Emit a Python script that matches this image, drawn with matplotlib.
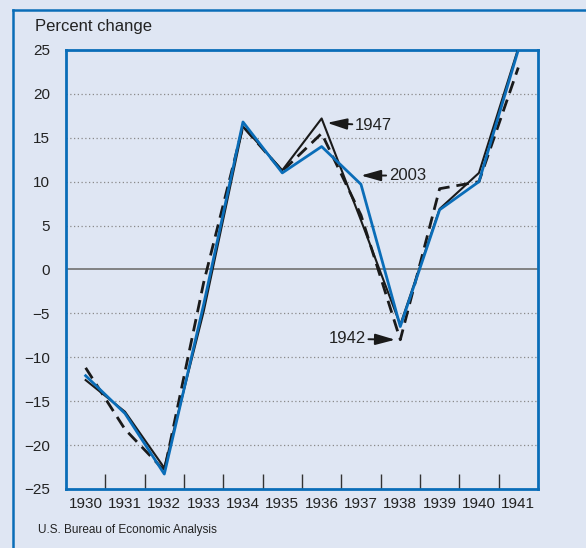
import numpy as np
import matplotlib
matplotlib.use('Agg')
import matplotlib.pyplot as plt
from matplotlib.lines import Line2D

plt.rcParams['font.family'] = ['Liberation Sans', 'DejaVu Sans']

years = ['1930', '1931', '1932', '1933', '1934', '1935',
         '1936', '1937', '1938', '1939', '1940', '1941']
v1947 = [-12.6, -16.2, -22.6, -4.8, 16.3, 11.3, 17.2, 5.6, -6.3, 6.9, 11.0, 25.2]
v2003 = [-12.1, -16.4, -23.3, -4.0, 16.8, 11.0, 14.0, 9.7, -6.5, 6.8, 10.0, 25.0]
v1942 = [-11.2, -18.2, -22.9, -1.5, 16.3, 11.2, 15.5, 6.2, -8.0, 9.2, 10.0, 23.0]
yticks = [-25, -20, -15, -10, -5, 0, 5, 10, 15, 20, 25]

bg = '#dfe6f3'
blue = '#0a6db8'

fig = plt.figure(figsize=(5.86, 5.48), dpi=100, facecolor=bg)
ax = fig.add_axes([0.1126, 0.1077, 0.8054, 0.8011], facecolor=bg)

x = np.arange(len(years))

# gridlines
for v in yticks[1:-1]:
    if v == 0:
        ax.axhline(0, color='#7a7a7a', lw=1.3, zorder=1)
    else:
        ax.axhline(v, color='#8a8a8a', lw=0.9, ls=(0, (1, 2)), zorder=1)

ax.plot(x, v1942, color='#1a1a1a', lw=2.0, ls=(0, (4.5, 2.5)), zorder=3)
ax.plot(x, v1947, color='#1a1a1a', lw=1.5, zorder=4)
ax.plot(x, v2003, color=blue, lw=2.0, zorder=5)

ax.set_xlim(-0.5, 11.5)
ax.set_ylim(-25, 25)
ax.set_xticks(x)
ax.set_xticklabels(years, fontsize=11, color='#222222')
ax.set_xticks(x[:-1] + 0.5, minor=True)
ax.tick_params(axis='x', which='major', length=0, pad=6)
ax.tick_params(axis='x', which='minor', direction='in', length=11,
               width=1.0, color='#333333')
ax.set_yticks(yticks)
ax.set_yticklabels([str(v).replace('-', '\u2212') for v in yticks],
                   fontsize=11, color='#222222')
ax.tick_params(axis='y', length=0, pad=11.5)

for s in ax.spines.values():
    s.set_color(blue)
    s.set_linewidth(2.0)

arrow = dict(arrowstyle='-|>,head_length=1.0,head_width=0.28',
             color='#1a1a1a', lw=1.4, shrinkA=0, shrinkB=0)
ax.annotate('1947', xy=(6.14, 16.7), xytext=(6.85, 16.4), fontsize=12,
            va='center', ha='left', color='#222222', arrowprops=arrow)
ax.annotate('2003', xy=(7.0, 10.7), xytext=(7.71, 10.7), fontsize=12,
            va='center', ha='left', color='#222222', arrowprops=arrow)
ax.annotate('1942', xy=(7.87, -8.0), xytext=(7.12, -7.9), fontsize=12,
            va='center', ha='right', color='#222222', arrowprops=arrow)

fig.text(35 / 586, 1 - 27 / 548, 'Percent change', fontsize=12,
         color='#222222', va='center', ha='left')
fig.text(38 / 586, 1 - 530 / 548, 'U.S. Bureau of Economic Analysis',
         fontsize=8.5, color='#222222', va='center', ha='left',
         family=['Liberation Sans Narrow', 'Liberation Sans'])

# outer frame (left and top edges)
fig.add_artist(Line2D([13 / 586, 13 / 586], [0, 1 - 10 / 548],
                      color=blue, lw=1.8, transform=fig.transFigure))
fig.add_artist(Line2D([13 / 586, 1], [1 - 10 / 548, 1 - 10 / 548],
                      color=blue, lw=1.8, transform=fig.transFigure))

fig.savefig('out.png', dpi=100, facecolor=bg)
